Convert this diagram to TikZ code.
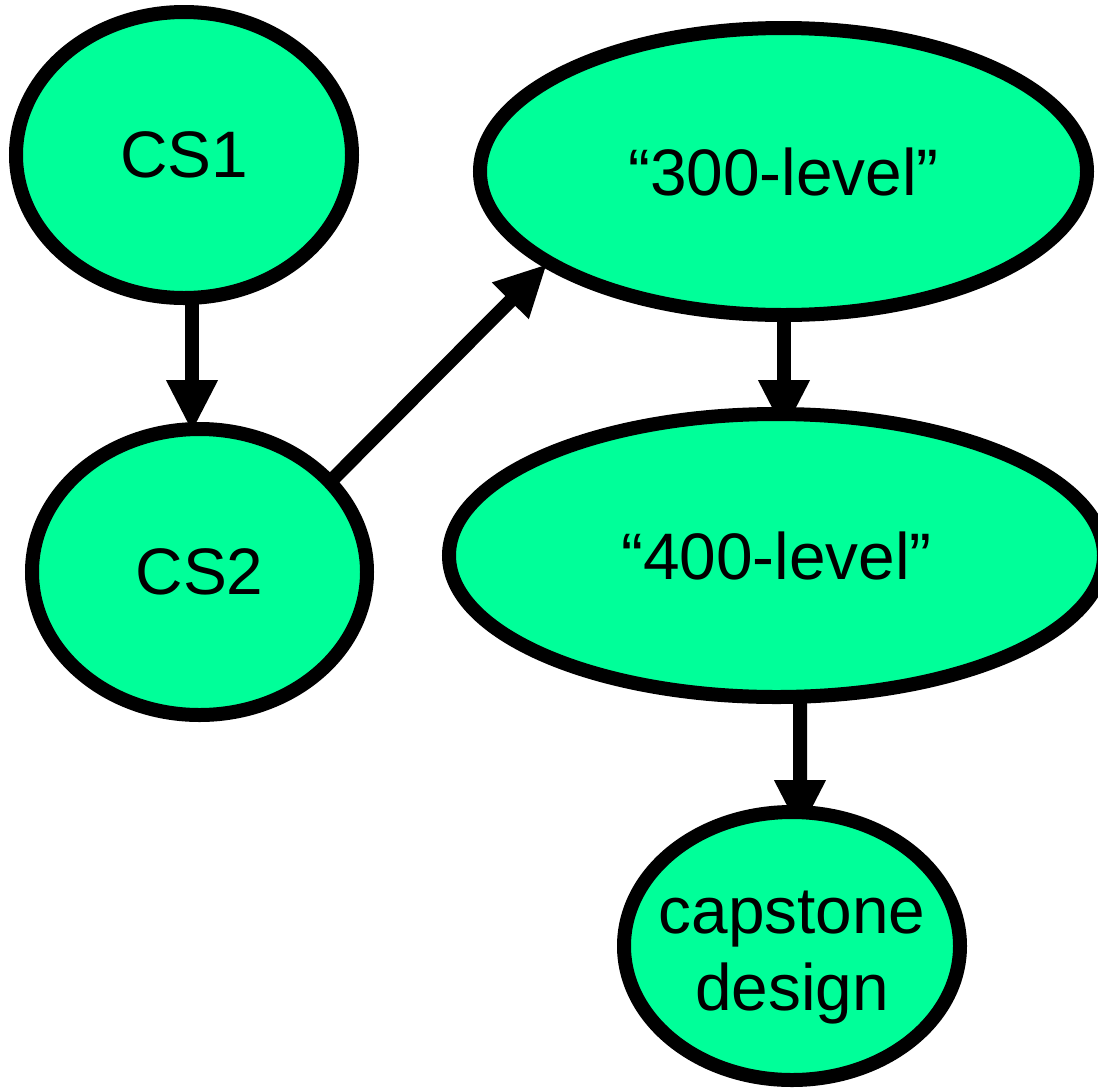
\documentclass[tikz,border=0pt]{standalone}
\usepackage{fontspec}
\setmainfont{Liberation Sans}
\usetikzlibrary{shapes.geometric,arrows.meta,backgrounds}
\definecolor{coursegreen}{RGB}{0,255,153}
\begin{document}
\begin{tikzpicture}[x=1bp,y=-1bp,
  course/.style={ellipse, draw=black, fill=coursegreen, line width=14bp,
    inner sep=-40bp, align=center, font=\fontsize{66}{77}\selectfont},
  prereq/.style={line width=14bp, draw=black,
    -{Triangle[length=52bp,width=48bp]}}]
\useasboundingbox (0,0) rectangle (1098,1088);

% courses
\node[course, minimum width=336bp, minimum height=286bp] (cs1) at (184,155) {CS1};
\node[course, minimum width=335bp, minimum height=286bp] (cs2) at (199.5,572) {CS2};
\node[course, minimum width=607bp, minimum height=287bp] (l300) at (783.5,171.5) {“300-level”};
\node[course, minimum width=655bp, minimum height=283bp] (l400) at (776.5,555.5) {“400-level”};
\node[course, minimum width=336bp, minimum height=268bp, text height=142bp, text depth=14bp]
  (cap) at (792,946) {capstone\\design};

% prerequisite arrows, drawn behind the courses
\begin{scope}[on background layer]
  \draw[prereq] ([shift={(8,130)}]cs1.center) -- ([shift={(-7.5,-140)}]cs2.center);
  \draw[prereq] ([shift={(120.5,-80)}]cs2.center) -- ([shift={(-236.5,92.5)}]l300.center);
  \draw[prereq] ([shift={(0.5,128.5)}]l300.center) -- ([shift={(7.5,-123.5)}]l400.center);
  \draw[prereq] ([shift={(23.5,124.5)}]l400.center) -- ([shift={(8,-114)}]cap.center);
\end{scope}
\end{tikzpicture}
\end{document}
